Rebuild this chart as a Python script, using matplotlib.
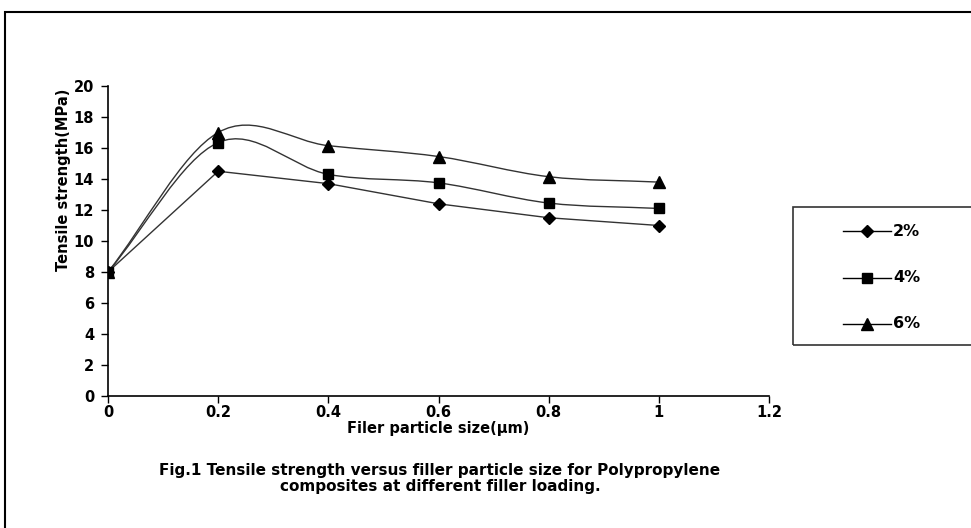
import matplotlib
matplotlib.use("Agg")
import matplotlib.pyplot as plt
from matplotlib.path import Path
from matplotlib.patches import PathPatch, Rectangle
from matplotlib.lines import Line2D
import numpy as np

plt.rcParams['font.family'] = ['DejaVu Sans']
plt.rcParams['font.weight'] = 'bold'

particle_size = [0, 0.2, 0.4, 0.6, 0.8, 1.0]
series_labels = ['2%', '4%', '6%']
ts_2 = [8.0, 14.5, 13.7, 12.4, 11.5, 11.0]
ts_4 = [8.0, 16.35, 14.3, 13.75, 12.45, 12.1]
ts_6 = [8.0, 17.0, 16.15, 15.45, 14.15, 13.8]
x_ticks = [0, 0.2, 0.4, 0.6, 0.8, 1, 1.2]
x_ticklabels = ['0', '0.2', '0.4', '0.6', '0.8', '1', '1.2']
y_ticks = [0, 2, 4, 6, 8, 10, 12, 14, 16, 18, 20]


def smooth_path(x, y):
    P = np.column_stack([x, y]).astype(float)
    n = len(P)
    T = np.zeros_like(P)
    for i in range(n):
        if i == 0:
            T[i] = P[1] - P[0]
        elif i == n - 1:
            T[i] = P[-1] - P[-2]
        else:
            T[i] = (P[i + 1] - P[i - 1]) / 2.0
    verts = [tuple(P[0])]
    codes = [Path.MOVETO]
    for i in range(n - 1):
        c1 = P[i] + T[i] / 3.0
        c2 = P[i + 1] - T[i + 1] / 3.0
        verts += [tuple(c1), tuple(c2), tuple(P[i + 1])]
        codes += [Path.CURVE4] * 3
    return Path(verts, codes)


W, H = 971, 528
fig = plt.figure(figsize=(W / 100, H / 100), dpi=100)
ax = fig.add_axes([108 / W, 132 / H, 661 / W, 310 / H])

line_color = '#333333'
lw = 1.0

ax.plot(particle_size, ts_2, color=line_color, lw=lw, zorder=2)
for ys in (ts_4, ts_6):
    ax.add_patch(PathPatch(smooth_path(particle_size, ys), facecolor='none',
                           edgecolor=line_color, lw=lw, zorder=2))

markers = [('D', 6), ('s', 7), ('^', 8)]
for ys, (m, ms) in zip((ts_2, ts_4, ts_6), markers):
    ax.plot(particle_size, ys, linestyle='none', marker=m, ms=ms, color='black', zorder=3)

ax.set_xlim(0, 1.2)
ax.set_ylim(0, 20)
ax.set_xticks(x_ticks)
ax.set_xticklabels(x_ticklabels)
ax.set_yticks(y_ticks)
for s in ('top', 'right'):
    ax.spines[s].set_visible(False)
for s in ('left', 'bottom'):
    ax.spines[s].set_linewidth(1.2)
    ax.spines[s].set_color('black')
ax.tick_params(axis='both', direction='out', length=5, width=1.0, labelsize=10.5)
ax.tick_params(axis='y', pad=5)
ax.tick_params(axis='x', pad=1.5)
for lab in ax.get_xticklabels() + ax.get_yticklabels():
    lab.set_fontweight('bold')
ax.patch.set_visible(False)

fig.text(438 / W, 1 - 429 / H, 'Filer particle size(µm)', ha='center', va='center',
         fontsize=10.5, fontweight='bold')
fig.text(63 / W, 1 - 180 / H, 'Tensile strength(MPa)', rotation=90,
         ha='center', va='center', fontsize=10.5, fontweight='bold')

fig.text(440 / W, 1 - 470 / H,
         'Fig.1 Tensile strength versus filler particle size for Polypropylene',
         ha='center', va='center', fontsize=11, fontweight='bold')
fig.text(440 / W, 1 - 487 / H,
         'composites at different filler loading.',
         ha='center', va='center', fontsize=11, fontweight='bold')

# outer border
fig.patches.append(Rectangle((5 / W, -0.05), 1.2, 1 - 12 / H + 0.05,
                             transform=fig.transFigure, fill=False,
                             edgecolor='black', lw=1.5))

# legend frame and entries
fig.patches.append(Rectangle((793 / W, 1 - 345 / H), 0.3, 138 / H,
                             transform=fig.transFigure, fill=False,
                             edgecolor='#333333', lw=1.2))
legend_y = [231, 278, 324]
for lab, (m, ms), yy in zip(series_labels, markers, legend_y):
    yf = 1 - yy / H
    fig.add_artist(Line2D([843 / W, 891 / W], [yf, yf], color='black', lw=1.0,
                          transform=fig.transFigure))
    fig.add_artist(Line2D([867 / W], [yf], marker=m, ms=ms, color='black',
                          linestyle='none', transform=fig.transFigure))
    fig.text(893 / W, yf, lab, ha='left', va='center', fontsize=11.5, fontweight='bold')

fig.savefig('out.png', dpi=100)
